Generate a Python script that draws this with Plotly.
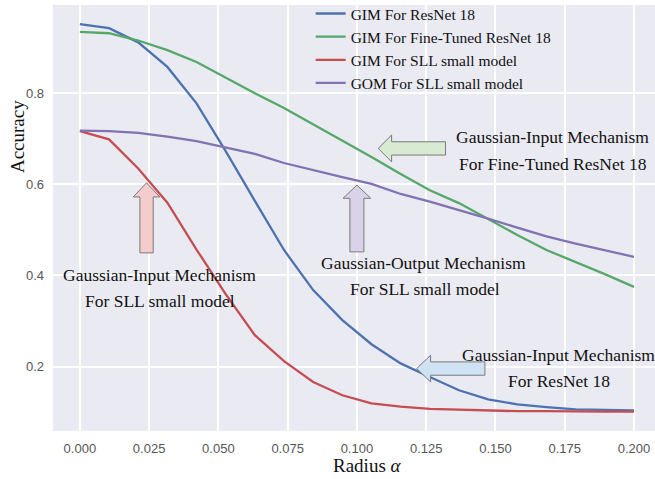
import plotly.graph_objects as go

# ---- data ----
radius = [i * 0.2 / 19 for i in range(20)]
gim_resnet = [0.952, 0.943, 0.912, 0.858, 0.778, 0.673, 0.564, 0.456, 0.368, 0.302,
              0.249, 0.207, 0.177, 0.148, 0.128, 0.117, 0.111, 0.106, 0.105, 0.104]
gim_finetuned = [0.935, 0.932, 0.916, 0.895, 0.869, 0.835, 0.800, 0.768, 0.732, 0.697,
                 0.660, 0.623, 0.587, 0.559, 0.524, 0.489, 0.456, 0.430, 0.403, 0.375]
gim_sll = [0.717, 0.699, 0.635, 0.560, 0.457, 0.359, 0.269, 0.212, 0.166, 0.137,
           0.119, 0.112, 0.107, 0.105, 0.103, 0.102, 0.102, 0.101, 0.101, 0.101]
gom_sll = [0.718, 0.717, 0.713, 0.705, 0.695, 0.681, 0.667, 0.647, 0.631, 0.616,
           0.601, 0.579, 0.562, 0.544, 0.525, 0.505, 0.486, 0.470, 0.456, 0.441]

series_names = ["GIM For ResNet 18", "GIM For Fine-Tuned ResNet 18",
                "GIM For SLL small model", "GOM For SLL small model"]
series_values = [gim_resnet, gim_finetuned, gim_sll, gom_sll]
series_colors = ["#4C72B0", "#55A868", "#C44E52", "#8172B2"]

x_ticks = [0.0, 0.025, 0.05, 0.075, 0.1, 0.125, 0.15, 0.175, 0.2]
x_tick_labels = ["0.000", "0.025", "0.050", "0.075", "0.100", "0.125", "0.150", "0.175", "0.200"]
y_ticks = [0.2, 0.4, 0.6, 0.8]
y_tick_labels = ["0.2", "0.4", "0.6", "0.8"]

SERIF = "Liberation Serif"
SANS = "Liberation Sans"

fig = go.Figure()
for name, vals, col in zip(series_names, series_values, series_colors):
    fig.add_trace(go.Scatter(x=radius, y=vals, mode="lines", name=name,
                             line=dict(color=col, width=2.3)))

# ---- block arrows (annotation decorations) ----
def up_arrow(xc, y_tip, head_len, head_hw, body_hw, y_bottom, fill):
    p = (f"M {xc} {y_tip} L {xc+head_hw} {y_tip-head_len} L {xc+body_hw} {y_tip-head_len} "
         f"L {xc+body_hw} {y_bottom} L {xc-body_hw} {y_bottom} L {xc-body_hw} {y_tip-head_len} "
         f"L {xc-head_hw} {y_tip-head_len} Z")
    fig.add_shape(type="path", path=p, xref="x", yref="y", fillcolor=fill,
                  line=dict(color="#7a7a7a", width=1), layer="above")

def left_arrow(x_tip, yc, head_len, head_hh, body_hh, x_right, fill):
    p = (f"M {x_tip} {yc} L {x_tip+head_len} {yc+head_hh} L {x_tip+head_len} {yc+body_hh} "
         f"L {x_right} {yc+body_hh} L {x_right} {yc-body_hh} L {x_tip+head_len} {yc-body_hh} "
         f"L {x_tip+head_len} {yc-head_hh} Z")
    fig.add_shape(type="path", path=p, xref="x", yref="y", fillcolor=fill,
                  line=dict(color="#7a7a7a", width=1), layer="above")

up_arrow(0.02406, 0.6035, 0.031, 0.0048, 0.0024, 0.4497, "#F4CCCC")
up_arrow(0.1000, 0.5985, 0.029, 0.0050, 0.00253, 0.4519, "#D9D2E9")
left_arrow(0.10769, 0.6791, 0.00484, 0.0294, 0.0146, 0.1320, "#D9EAD3")
left_arrow(0.12155, 0.1956, 0.00505, 0.0293, 0.0146, 0.1462, "#CFE2F3")

labels = [
    (0.1707, 0.7036, "Gaussian-Input Mechanism"),
    (0.1707, 0.6443, "For Fine-Tuned ResNet 18"),
    (0.0289, 0.4001, "Gaussian-Input Mechanism"),
    (0.0290, 0.3437, "For SLL small model"),
    (0.1242, 0.4264, "Gaussian-Output Mechanism"),
    (0.1245, 0.3700, "For SLL small model"),
    (0.1729, 0.2264, "Gaussian-Input Mechanism"),
    (0.1729, 0.1678, "For ResNet 18"),
]
for lx, ly, txt in labels:
    fig.add_annotation(x=lx, y=ly, xref="x", yref="y", text=txt, showarrow=False,
                       xanchor="center", yanchor="middle",
                       font=dict(family=SERIF, size=17.5, color="#111111"))

# axis titles
fig.add_annotation(x=-0.0598, y=0.690, xref="paper", yref="paper", text="Accuracy",
                   showarrow=False, textangle=-90, xanchor="center", yanchor="middle",
                   font=dict(family=SERIF, size=19, color="#111111"))
fig.add_annotation(x=0.5216, y=-0.0820, xref="paper", yref="paper", text="Radius <i>α</i>",
                   showarrow=False, xanchor="center", yanchor="middle",
                   font=dict(family=SERIF, size=19, color="#111111"))

fig.update_layout(
    width=655, height=479,
    margin=dict(l=53, r=0, t=5, b=48, autoexpand=False),
    paper_bgcolor="white",
    plot_bgcolor="#EAEAF2",
    showlegend=True,
    legend=dict(x=0.428, y=1.019, xanchor="left", yanchor="top",
                bgcolor="rgba(0,0,0,0)", borderwidth=0,
                font=dict(family=SERIF, size=15.5, color="#111111")),
    xaxis=dict(range=[-0.0097, 0.2076], tickvals=x_ticks, ticktext=x_tick_labels,
               showgrid=True, gridcolor="white", gridwidth=1.5, zeroline=False,
               showline=False, ticks="", ticklabelstandoff=8, automargin=False,
               tickfont=dict(family=SANS, size=13, color="#555555")),
    yaxis=dict(range=[0.0585, 0.994], tickvals=y_ticks, ticktext=y_tick_labels,
               showgrid=True, gridcolor="white", gridwidth=1.5, zeroline=False,
               showline=False, ticks="", ticklabelstandoff=8, automargin=False,
               tickfont=dict(family=SANS, size=13, color="#555555")),
)

fig.write_html("out.html", config={"displayModeBar": False},
               post_script="document.body.style.margin='0px';")
